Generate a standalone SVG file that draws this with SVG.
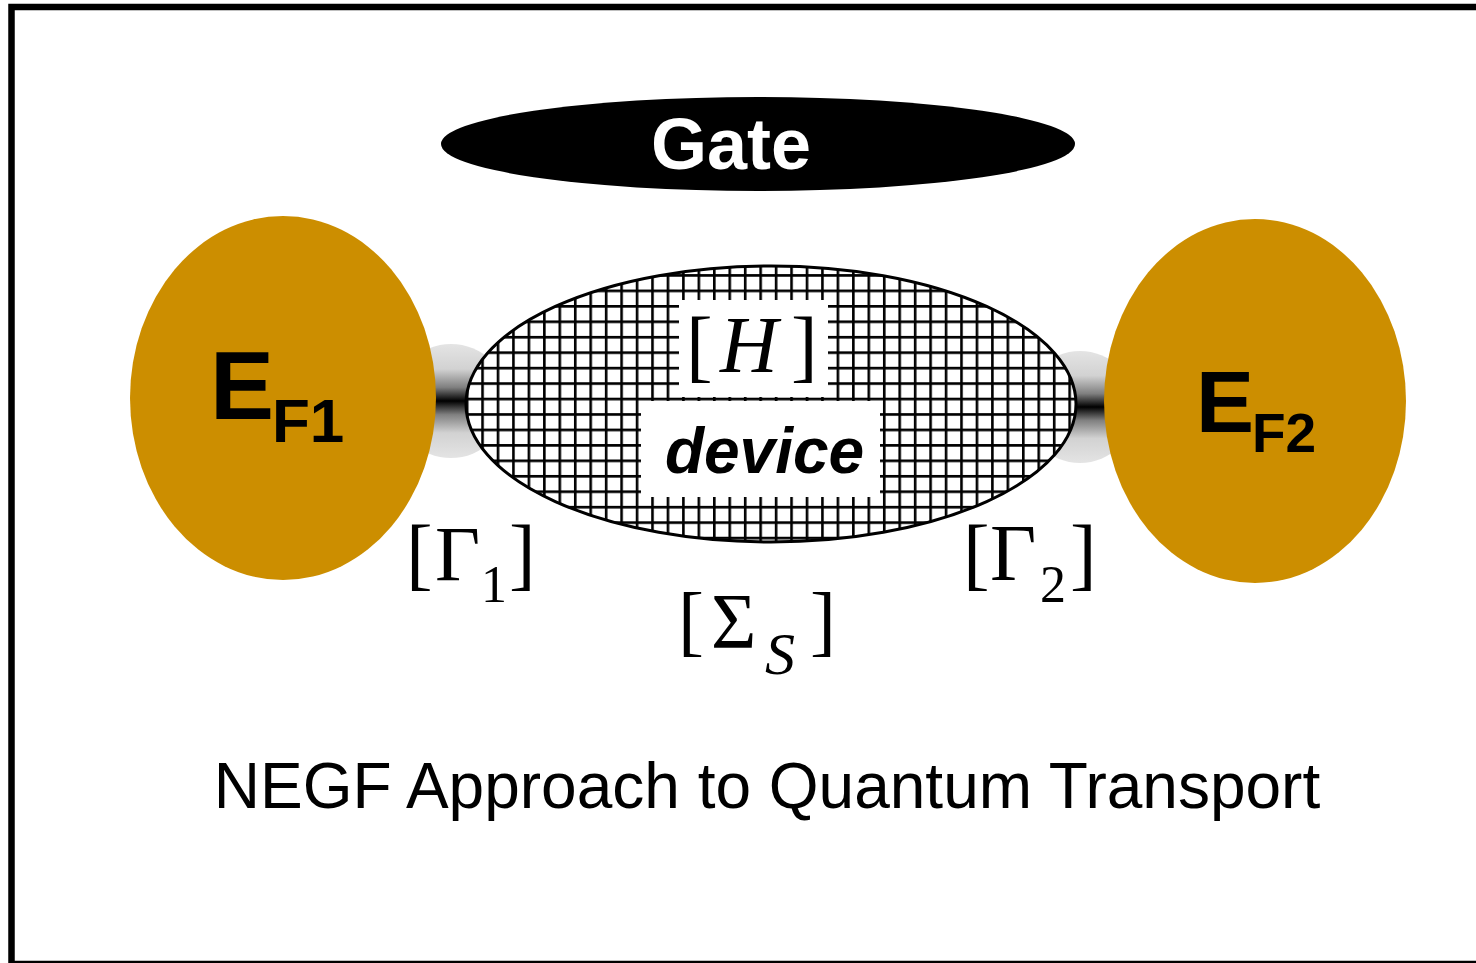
<svg xmlns="http://www.w3.org/2000/svg" width="1476" height="963" viewBox="0 0 1476 963">
<style>
.lead{fill:#CC8E00}
.ef{font-family:"Liberation Sans",Arial,sans-serif;font-weight:bold;fill:#000}
.tm{font-family:"Liberation Serif","Times New Roman",serif;fill:#000}
.it{font-style:italic}
.sans{font-family:"Liberation Sans",Arial,sans-serif}
</style>
<defs>
<linearGradient id="cg" x1="0" y1="0" x2="0" y2="1">
<stop offset="0" stop-color="#e4e4e4"/>
<stop offset="0.22" stop-color="#d2d2d2"/>
<stop offset="0.38" stop-color="#808080"/>
<stop offset="0.5" stop-color="#000"/>
<stop offset="0.62" stop-color="#808080"/>
<stop offset="0.78" stop-color="#d2d2d2"/>
<stop offset="1" stop-color="#e4e4e4"/>
</linearGradient>
<pattern id="grid" patternUnits="userSpaceOnUse" x="496.7" y="305" width="15.45" height="15.45">
<rect width="15.45" height="15.45" fill="#fff"/>
<path d="M1.3 0V15.45M0 1.3H15.45" stroke="#000" stroke-width="2.6" fill="none"/>
</pattern>
</defs>
<rect width="1476" height="963" fill="#fff"/>
<rect x="11.5" y="7" width="1500" height="957" fill="none" stroke="#000" stroke-width="6.5"/>

<g id="gate">
<ellipse cx="758" cy="144" rx="317" ry="47" fill="#000"/>
<text x="731" y="169" class="ef" font-size="72" style="fill:#fff" text-anchor="middle">Gate</text>
</g>

<g id="connectors">
<circle cx="451" cy="401" r="57" fill="url(#cg)"/>
<circle cx="1080" cy="407" r="56" fill="url(#cg)"/>
</g>

<g id="device">
<ellipse cx="771" cy="404" rx="305" ry="138" fill="url(#grid)" stroke="#000" stroke-width="3"/>
<rect x="679" y="300" width="149" height="97" fill="#fff"/>
<rect x="641" y="401" width="239" height="96" fill="#fff"/>
<text class="tm" font-size="80" x="686" y="372">[</text>
<text class="tm it" font-size="80" x="720" y="372">H</text>
<text class="tm" font-size="80" x="791" y="372">]</text>
<text class="ef it" font-size="64" x="764.5" y="473" text-anchor="middle">device</text>
</g>

<g id="lead1">
<ellipse class="lead" cx="283" cy="398" rx="153" ry="182"/>
<text class="ef" font-size="96" x="210" y="419">E</text>
<text class="ef" font-size="62" x="272" y="442">F1</text>
</g>

<g id="lead2">
<ellipse class="lead" cx="1255" cy="401" rx="151" ry="182"/>
<text class="ef" font-size="87" x="1196" y="432">E</text>
<text class="ef" font-size="55" x="1252" y="452">F2</text>
</g>

<g id="gamma1">
<text class="tm" font-size="80" x="406" y="580">[</text>
<text class="tm" font-size="78" x="435" y="580">Γ</text>
<text class="tm" font-size="52" x="481" y="602">1</text>
<text class="tm" font-size="80" x="509" y="580">]</text>
</g>

<g id="gamma2">
<text class="tm" font-size="80" x="963" y="580">[</text>
<text class="tm" font-size="80" x="990" y="580">Γ</text>
<text class="tm" font-size="52" x="1040" y="602">2</text>
<text class="tm" font-size="80" x="1070" y="580">]</text>
</g>

<g id="sigma">
<text class="tm" font-size="78" x="678" y="647">[</text>
<text class="tm" font-size="78" x="711" y="647">Σ</text>
<text class="tm it" font-size="60" x="765" y="674">S</text>
<text class="tm" font-size="78" x="810" y="647">]</text>
</g>

<text class="sans" font-size="64" x="767" y="808" text-anchor="middle">NEGF Approach to Quantum Transport</text>
</svg>
